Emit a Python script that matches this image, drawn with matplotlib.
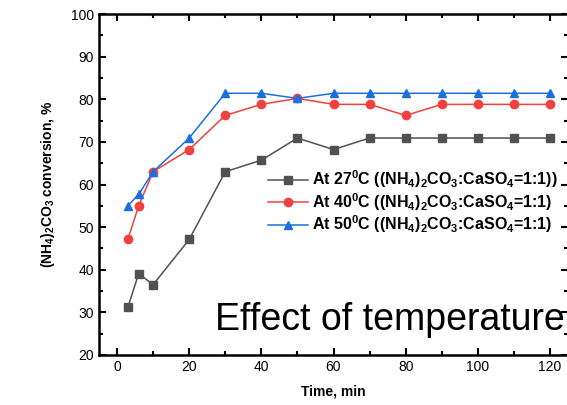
import matplotlib
matplotlib.use('Agg')
import matplotlib.pyplot as plt
from matplotlib.ticker import MultipleLocator

plt.rcParams['font.family'] = ['Liberation Sans', 'DejaVu Sans']
plt.rcParams['mathtext.fontset'] = 'custom'
plt.rcParams['mathtext.rm'] = 'Liberation Sans:bold'
plt.rcParams['mathtext.it'] = 'Liberation Sans:bold'
plt.rcParams['mathtext.bf'] = 'Liberation Sans:bold'
plt.rcParams['mathtext.default'] = 'rm'

time_min = [3, 6, 10, 20, 30, 40, 50, 60, 70, 80, 90, 100, 110, 120]
conv_27 = [31.2, 39.1, 36.5, 47.1, 63.0, 65.7, 70.9, 68.2, 70.9, 70.9, 70.9, 70.9, 70.9, 70.9]
conv_40 = [47.1, 55.0, 63.0, 68.2, 76.2, 78.8, 80.2, 78.8, 78.8, 76.2, 78.8, 78.8, 78.8, 78.8]
conv_50 = [55.0, 57.7, 63.0, 70.9, 81.4, 81.4, 80.2, 81.4, 81.4, 81.4, 81.4, 81.4, 81.4, 81.4]

labels = [r'At 27$^0$C ((NH$_4$)$_2$CO$_3$:CaSO$_4$=1:1))',
          r'At 40$^0$C ((NH$_4$)$_2$CO$_3$:CaSO$_4$=1:1)',
          r'At 50$^0$C ((NH$_4$)$_2$CO$_3$:CaSO$_4$=1:1)']
colors = ['#515151', '#F14040', '#1A6FDF']
markers = ['s', 'o', '^']

fig = plt.figure(figsize=(5.67, 4.05), dpi=100)
ax = fig.add_axes([99 / 567, 50 / 405, 469 / 567, 341 / 405])

for y, lab, c, m in zip([conv_27, conv_40, conv_50], labels, colors, markers):
    ax.plot(time_min, y, color=c, marker=m, markersize=6,
            linewidth=1.1, label=lab)

ax.set_xlim(-5, 125)
ax.set_ylim(20, 100)
ax.xaxis.set_major_locator(MultipleLocator(20))
ax.xaxis.set_minor_locator(MultipleLocator(10))
ax.yaxis.set_major_locator(MultipleLocator(10))
ax.yaxis.set_minor_locator(MultipleLocator(5))
ax.tick_params(which='both', direction='in', top=True, right=True, width=1.5, labelsize=10)
ax.tick_params(which='major', length=5)
ax.tick_params(which='minor', length=3)
for s in ax.spines.values():
    s.set_linewidth(1.8)

ax.set_xlabel('Time, min', fontsize=10, fontweight='bold', labelpad=8)
ax.set_ylabel(r'(NH$_4$)$_2$CO$_3$ conversion, %', fontsize=10, fontweight='bold', labelpad=10)

leg = ax.legend(loc='center left', bbox_to_anchor=(0.361, 0.449), frameon=False,
                prop={'weight': 'bold', 'size': 11.5}, handlelength=2.5, handletextpad=0.25,
                labelspacing=0.05, borderpad=0, borderaxespad=0)

fig.text(215 / 567, 1 - 330 / 405, 'Effect of temperature', fontsize=27,
         ha='left', va='baseline', color='black')

fig.savefig('out.png', dpi=100)
